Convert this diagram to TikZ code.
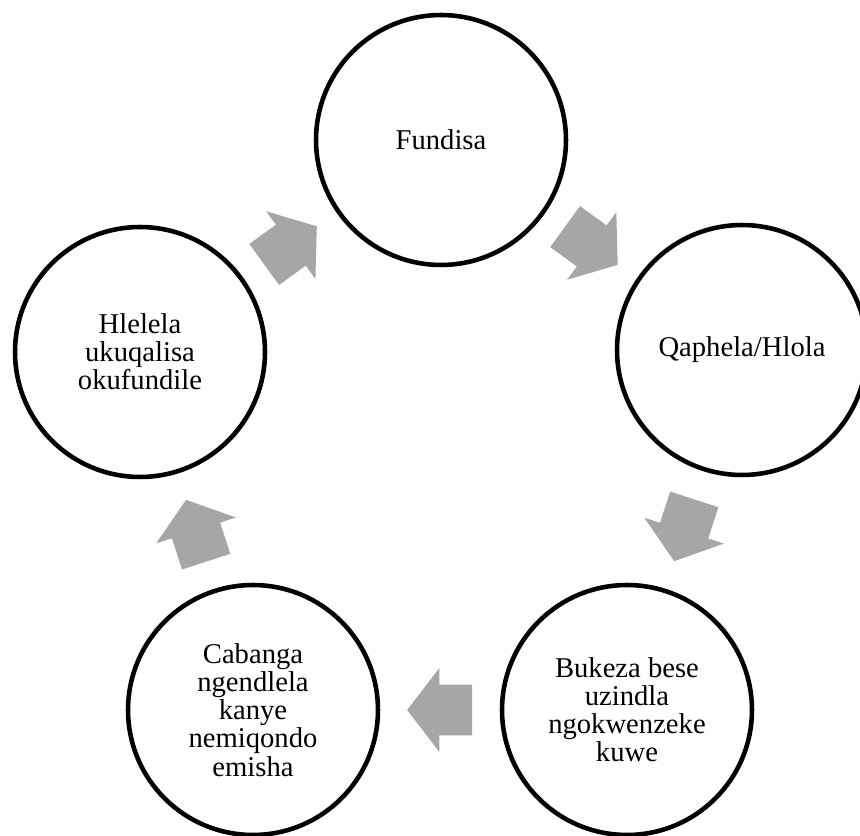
\documentclass[tikz,border=0pt]{standalone}
\usepackage{fontspec}
\setmainfont{Liberation Serif}
\usetikzlibrary{shapes.arrows,calc}
\definecolor{arrowgrey}{HTML}{A6A6A6}
\begin{document}
\begin{tikzpicture}[
    x = 0.02cm, y = 0.02cm,
    stage/.style = {circle, draw, line width = 2.6pt, minimum size = 5cm,
      inner sep = 0pt, align = center, font = \fontsize{16.3}{16}\selectfont},
    cyclearrow/.style = {single arrow, fill = arrowgrey, draw = none, anchor = tail,
      inner xsep = 0pt, inner ysep = 0.5cm, minimum height = 1.3cm,
      single arrow head extend = 0.33cm, single arrow tip angle = 105}
  ]
  \useasboundingbox (0, 0) rectangle (860, 836);
  % nodes
  \node[stage] (fundisa) at (441, 696) {Fundisa};
  \node[stage] (qaphela) at (742, 486) {Qaphela/Hlola};
  \node[stage] (bukeza)  at (627, 126) {Bukeza bese\\uzindla\\ngokwenzeke\\kuwe};
  \node[stage] (cabanga) at (253, 126) {Cabanga\\ngendlela\\kanye\\nemiqondo\\emisha};
  \node[stage] (hlelela) at (140, 484) {Hlelela\\ukuqalisa\\okufundile};
  % arrows between the stages (tail put half a length before the midpoint)
  \node[cyclearrow, rotate = 36]   (a1) at ($(hlelela)!0.5!(fundisa)!0.65cm!(hlelela)$) {};
  \node[cyclearrow, rotate = -36]  (a2) at ($(fundisa)!0.5!(qaphela)!0.65cm!(fundisa)$) {};
  \node[cyclearrow, rotate = -108] (a3) at ($(qaphela)!0.5!(bukeza)!0.65cm!(qaphela)$) {};
  \node[cyclearrow, rotate = 180]  (a4) at ($(bukeza)!0.5!(cabanga)!0.65cm!(bukeza)$) {};
  \node[cyclearrow, rotate = 108]  (a5) at ($(cabanga)!0.5!(hlelela)!0.65cm!(cabanga)$) {};
\end{tikzpicture}
\end{document}
